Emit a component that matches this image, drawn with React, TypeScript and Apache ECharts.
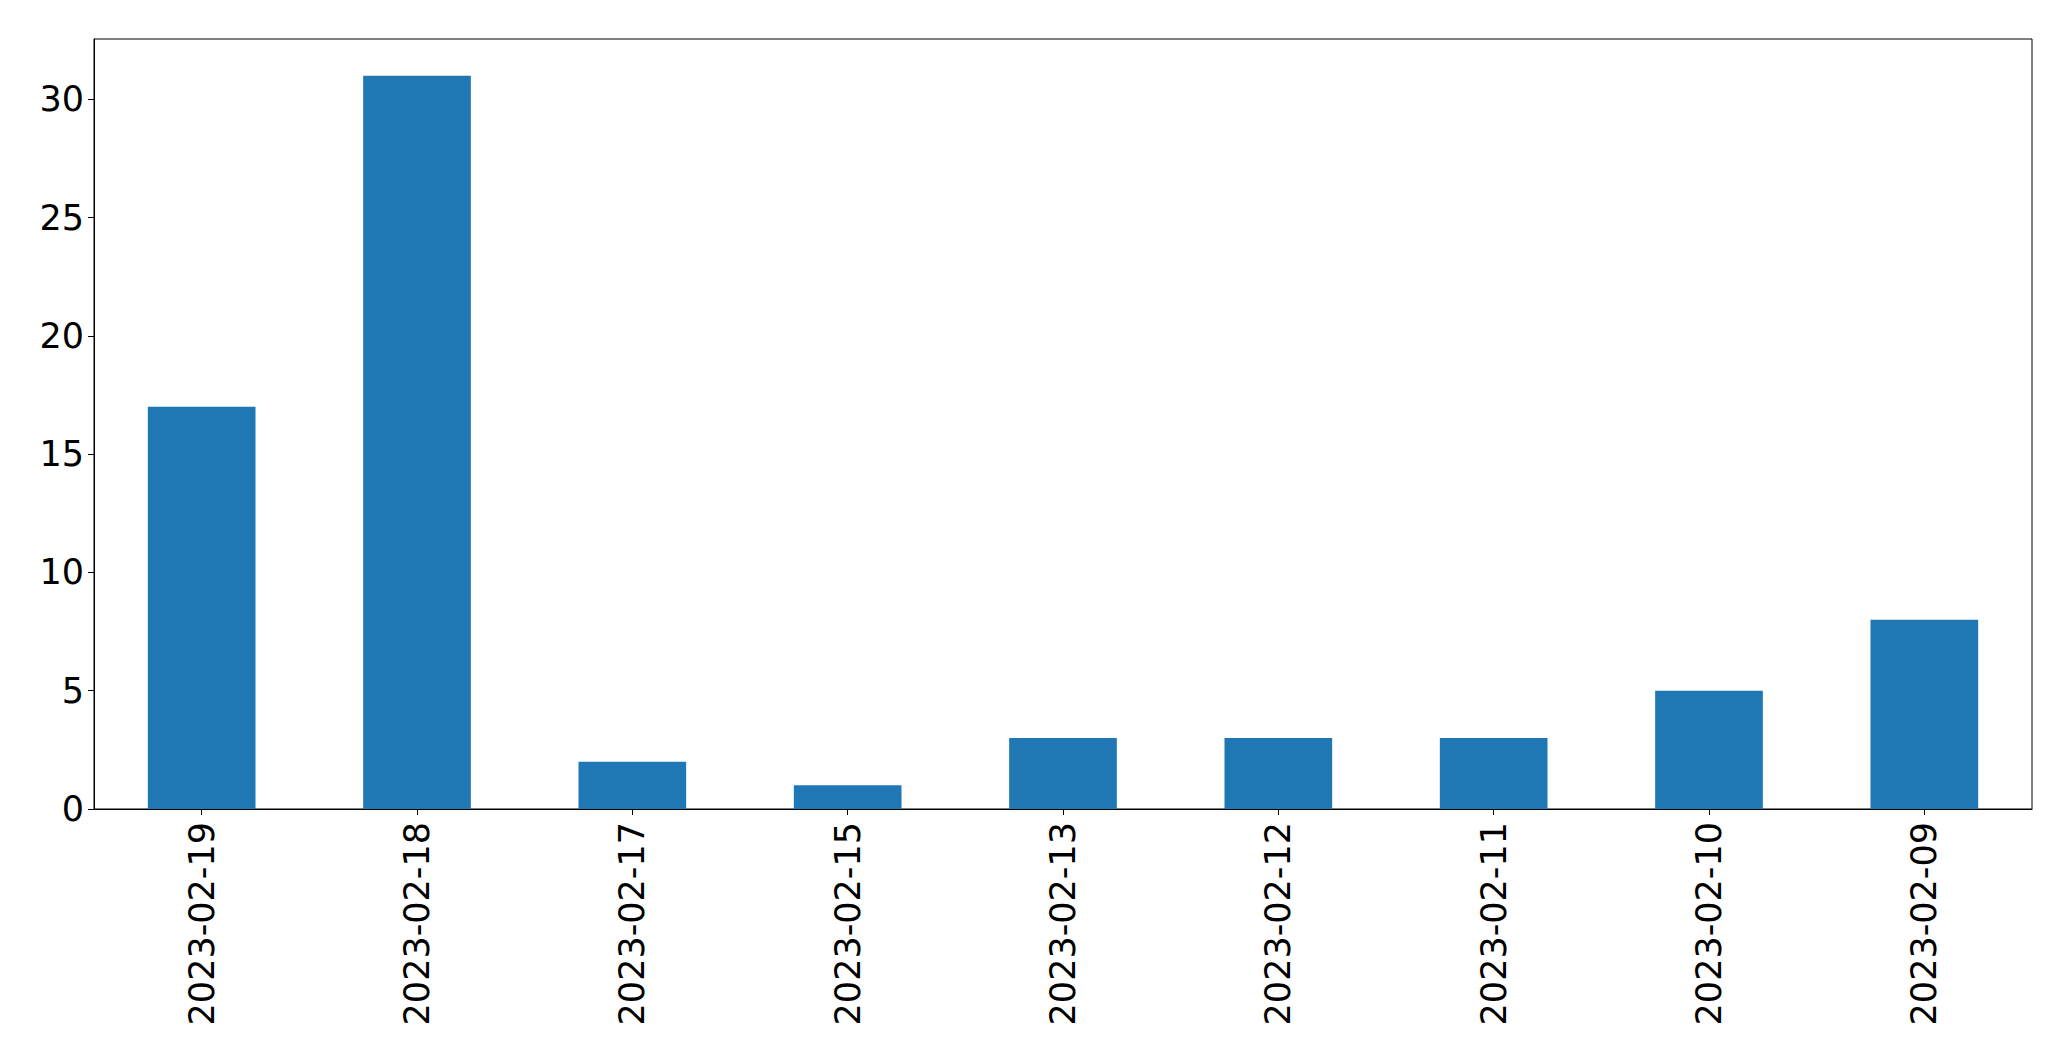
import React, { useEffect, useRef } from "react";
import * as echarts from "echarts";

const categories = [
  "2023-02-19",
  "2023-02-18",
  "2023-02-17",
  "2023-02-15",
  "2023-02-13",
  "2023-02-12",
  "2023-02-11",
  "2023-02-10",
  "2023-02-09",
];
const counts = [17, 31, 2, 1, 3, 3, 3, 5, 8];
const yMax = 32.55;

export default function App() {
  const ref = useRef<HTMLDivElement>(null);
  useEffect(() => {
    if (!ref.current) return;
    const chart = echarts.init(ref.current, undefined, { renderer: "svg" });
    const font = "DejaVu Sans";
    chart.setOption({
      animation: false,
      backgroundColor: "#ffffff",
      grid: {
        left: 86,
        right: 31,
        top: 31,
        bottom: 244,
        show: true,
        borderColor: "#000000",
        borderWidth: 1,
        backgroundColor: "transparent",
      },
      xAxis: {
        type: "category",
        data: categories,
        boundaryGap: true,
        axisLine: { show: true, lineStyle: { color: "#000", width: 1 } },
        axisTick: { show: true, alignWithLabel: true, length: 6, lineStyle: { color: "#000", width: 1 } },
        axisLabel: {
          rotate: 90,
          margin: 13,
          fontSize: 35,
          fontFamily: font,
          color: "#000",
          interval: 0,
        },
        splitLine: { show: false },
      },
      yAxis: {
        type: "value",
        min: 0,
        max: yMax,
        interval: 5,
        axisLine: { show: true, lineStyle: { color: "#000", width: 1 } },
        axisTick: { show: true, length: 6, lineStyle: { color: "#000", width: 1 } },
        axisLabel: {
          margin: 10,
          fontSize: 35,
          fontFamily: font,
          color: "#000",
          showMaxLabel: false,
          formatter: (v: number) => (Number.isInteger(v) ? String(v) : ""),
        },
        splitLine: { show: false },
      },
      series: [
        {
          type: "bar",
          data: counts,
          barWidth: "50%",
          itemStyle: { color: "#1f77b4" },
        },
      ],
    });
    return () => chart.dispose();
  }, []);
  return <div ref={ref} style={{ width: 2055, height: 1045 }} />;
}
